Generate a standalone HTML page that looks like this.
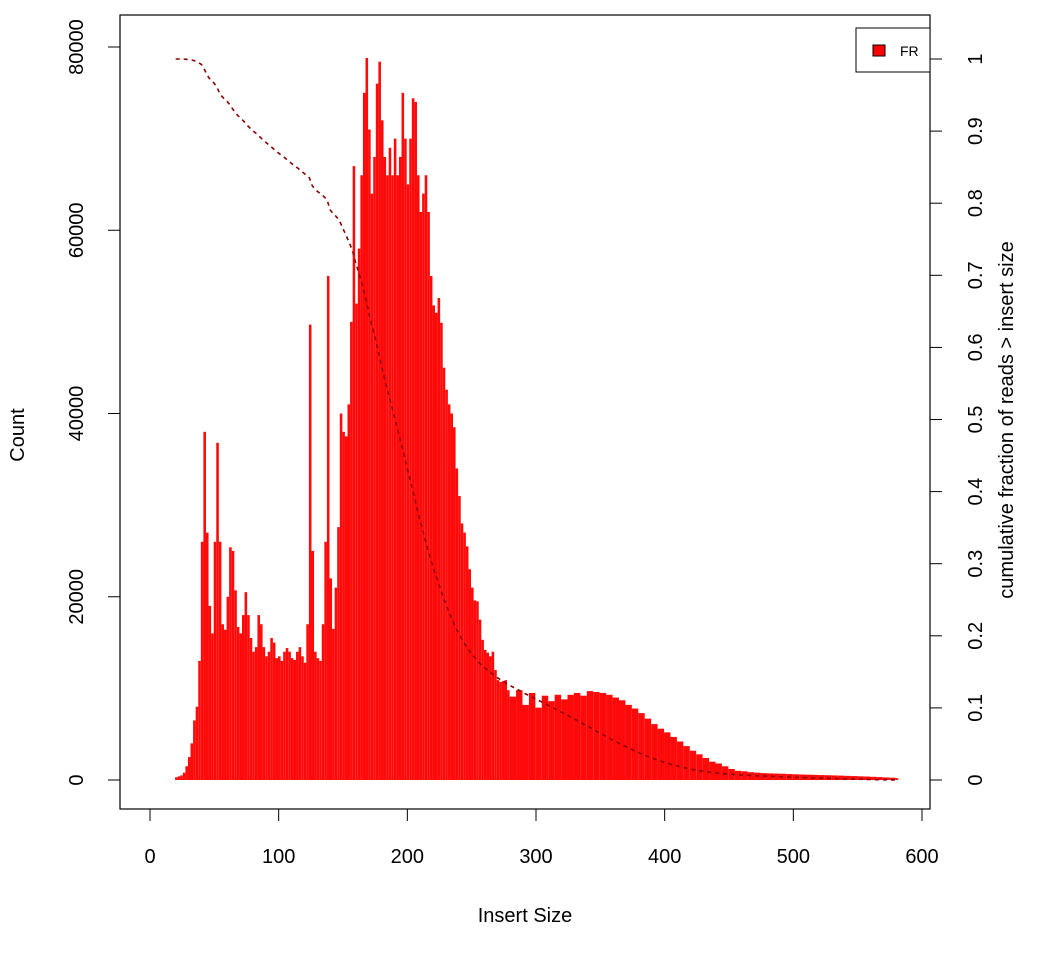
<!DOCTYPE html>
<html><head><meta charset="utf-8"><style>
body{margin:0;background:#fff}
svg{display:block;font-family:"Liberation Sans",Arial,sans-serif}
</style></head><body>
<svg id="chart" width="1050" height="960" viewBox="0 0 1050 960" xmlns="http://www.w3.org/2000/svg">
<rect x="0" y="0" width="1050" height="960" fill="#fff"/>
<g id="bars"></g>
<polyline id="cum" fill="none" stroke="#8b0000" stroke-width="1.6" stroke-dasharray="4,4"/>
<rect x="120" y="15" width="810" height="794" fill="none" stroke="#000" stroke-width="1.2"/>
<g id="xaxis"></g>
<g id="yaxis"></g>
<g id="raxis"></g>
<text x="525" y="922" font-size="20" text-anchor="middle">Insert Size</text>
<text transform="translate(24,435) rotate(-90)" font-size="20" text-anchor="middle">Count</text>
<text transform="translate(1013,420) rotate(-90)" font-size="20" text-anchor="middle">cumulative fraction of reads &gt; insert size</text>
<g>
<rect x="856" y="28" width="74" height="44" fill="#fff" stroke="#000" stroke-width="1"/>
<rect x="873" y="45" width="12" height="11" fill="#ff0000" stroke="#000" stroke-width="1"/>
<text x="900" y="56" font-size="14">FR</text>
</g>
</svg>
<script>
const sizes=[20,22,24,26,28,30,32,34,36,38,40,42,44,46,48,50,52,54,56,58,60,62,64,66,68,70,72,74,76,78,80,82,84,86,88,90,92,94,96,98,100,102,104,106,108,110,112,114,116,118,120,122,124,126,128,130,132,134,136,138,140,142,144,146,148,150,152,154,156,158,160,162,164,166,168,170,172,174,176,178,180,182,184,186,188,190,192,194,196,198,200,202,204,206,208,210,212,214,216,218,220,222,224,226,228,230,232,234,236,238,240,242,244,246,248,250,252,254,256,258,260,262,264,266,268,270,272,274,276,278,280,285,290,295,300,305,310,315,320,325,330,335,340,345,350,355,360,365,370,375,380,385,390,395,400,405,410,415,420,425,430,435,440,445,450,455,460,465,470,475,480,485,490,495,500,505,510,515,520,525,530,535,540,545,550,555,560,565,570,575,580];
const counts=[300,400,500,800,1500,2500,4000,6500,8000,13000,26000,38000,27000,19000,16000,26000,36800,26000,17000,16400,20000,25400,25000,20700,16700,16000,18000,20500,18000,15500,14000,14500,18000,17000,14500,13500,14000,15500,15000,13300,13500,13000,14000,14400,14000,13300,13100,14000,14500,13500,12800,17000,49700,25000,14000,13300,13000,17000,26000,55000,22000,16500,21000,27600,40000,38000,37500,41000,50000,67000,52000,58000,66000,75000,78800,71000,64000,68000,76000,78400,72000,68000,66000,69000,66000,70000,66000,68000,75000,70000,65000,70000,74400,74000,66000,62000,64000,66000,62000,55000,51800,51000,52600,49900,45000,42600,41000,40000,38500,34000,31000,28000,27000,25500,23000,21000,19600,19500,17500,15300,14200,13900,13500,14000,12000,10900,10700,10800,10900,9800,9100,9800,8200,9500,7900,9200,8600,9300,8800,9300,9500,9200,9700,9600,9500,9300,9000,8700,8200,7800,7300,6700,6100,5600,5200,4700,4200,3700,3200,2800,2400,2000,1800,1500,1200,1000,950,850,800,750,720,700,680,650,620,600,580,560,540,520,500,480,450,430,400,380,350,320,280,250,200];
const xTicks=[0,100,200,300,400,500,600];
const yTicks=[0,20000,40000,60000,80000];
const rTicks=[0,0.1,0.2,0.3,0.4,0.5,0.6,0.7,0.8,0.9,1];
const rLabels=["0","0.1","0.2","0.3","0.4","0.5","0.6","0.7","0.8","0.9","1"];

const NS="http://www.w3.org/2000/svg";
const X=v=>150+v*(772/600);
const Y=c=>780-c*(733/80000);
const R=f=>780-f*721;
function mk(t,a){const e=document.createElementNS(NS,t);for(const k in a)e.setAttribute(k,a[k]);return e;}

const bars=document.getElementById('bars');
for(let i=0;i<sizes.length;i++){
  const w=i<sizes.length-1?sizes[i+1]-sizes[i]:2;
  const r=mk('rect',{x:X(sizes[i]-0.5),y:Y(counts[i]),width:X(w)-X(0),height:Y(0)-Y(counts[i]),fill:'#ff0a0a'});
  
  
  bars.appendChild(r);
}
// cumulative fraction of reads > insert size, weighted by bin width
const weights=sizes.map((s,i)=>(i<sizes.length-1?sizes[i+1]-s:2)*counts[i]);
const total=weights.reduce((a,b)=>a+b,0);
let rem=total;const pts=[];
for(let i=0;i<sizes.length;i++){
  pts.push(X(sizes[i]).toFixed(1)+','+R(rem/total).toFixed(1));
  rem-=weights[i];
}
document.getElementById('cum').setAttribute('points',pts.join(' '));

const xa=document.getElementById('xaxis');
xa.appendChild(mk('line',{x1:X(0),x2:X(600),y1:809,y2:809,stroke:'#000'}));
xTicks.forEach(t=>{
  const l=mk('line',{x1:X(t),x2:X(t),y1:809,y2:821,stroke:'#000'});
  
  
  xa.appendChild(l);
  const tx=mk('text',{x:X(t),y:863,'font-size':20,'text-anchor':'middle'});
  
  
  tx.textContent=t;xa.appendChild(tx);
});
const ya=document.getElementById('yaxis');
ya.appendChild(mk('line',{x1:120,x2:120,y1:Y(0),y2:Y(80000),stroke:'#000'}));
yTicks.forEach(t=>{
  const l=mk('line',{x1:108,x2:120,y1:Y(t),y2:Y(t),stroke:'#000'});
  
  
  ya.appendChild(l);
  const tx=mk('text',{transform:'translate(83,'+Y(t)+') rotate(-90)','font-size':20,'text-anchor':'middle'});
  
  
  tx.textContent=t;ya.appendChild(tx);
});
const ra=document.getElementById('raxis');
ra.appendChild(mk('line',{x1:930,x2:930,y1:R(0),y2:R(1),stroke:'#000'}));
rTicks.forEach((t,i)=>{
  const l=mk('line',{x1:930,x2:942,y1:R(t),y2:R(t),stroke:'#000'});
  
  
  ra.appendChild(l);
  const tx=mk('text',{transform:'translate(982,'+R(t)+') rotate(-90)','font-size':20,'text-anchor':'middle'});
  
  
  tx.textContent=rLabels[i];ra.appendChild(tx);
});
</script>
</body></html>
